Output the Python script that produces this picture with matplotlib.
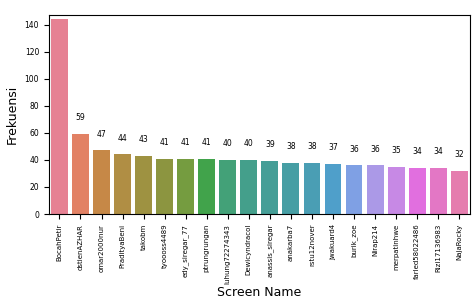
import numpy as np
import matplotlib
matplotlib.use("Agg")
import matplotlib.pyplot as plt
import seaborn as sns

# screen names and their frequencies
names = ["BocahPetir", "dstienAZHAR", "omar2000nur", "PradityaBeni", "takobm",
         "tyoooss4489", "edy_siregar_77", "ptrungrungan", "luhung72274343", "Dewicyndracol",
         "anassis_siregar", "anakarba7", "rstu12nover", "jwakuard4", "burik_zoe",
         "Nirap214", "merpatinhwe", "farled58022486", "Rizi17136983", "NajaRocky"]
counts = [144, 59, 47, 44, 43, 41, 41, 41, 40, 40, 39, 38, 38, 37, 36, 36, 35, 34, 34, 32]

fig = plt.figure(figsize=(4.75, 3.01), dpi=100)
ax = fig.add_axes([0.103, 0.289, 0.886, 0.661])

colors = sns.color_palette("husl", len(names))
sns.barplot(x=names, y=counts, hue=names, palette=colors, legend=False, ax=ax,
            saturation=0.75)

for i, c in enumerate(counts):
    if i == 0:
        continue
    ax.text(i, c + 12, str(c), ha="center", va="center", fontsize=5.5)

ax.set_ylim(0, 147)
ax.set_xlim(-0.5, len(names) - 0.5)
ax.set_ylabel("Frekuensi", fontsize=9)
ax.set_xlabel("Screen Name", fontsize=9, labelpad=2)
ax.tick_params(axis="x", labelrotation=90, labelsize=5)
ax.tick_params(axis="y", labelsize=5.5)

plt.savefig("out.png", dpi=100)
